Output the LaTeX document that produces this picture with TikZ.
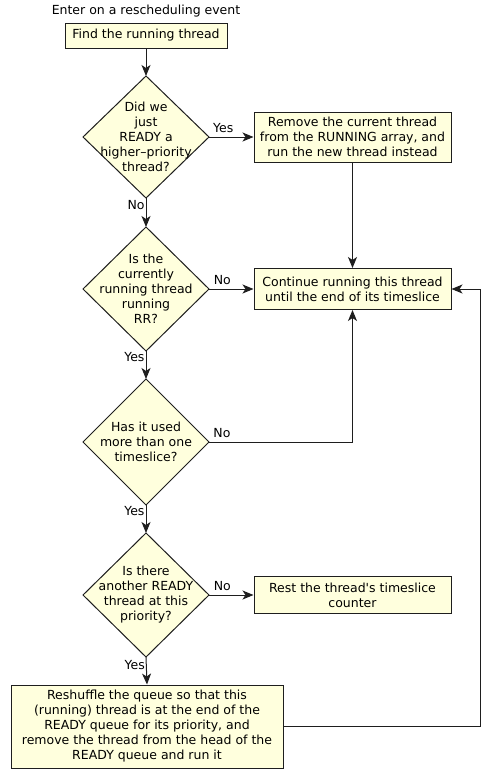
\documentclass[tikz,border=0pt]{standalone}
\usepackage{fontspec}
\setmainfont{DejaVu Sans}[Ligatures=TeXOff]
\usetikzlibrary{shapes.geometric,arrows.meta}
\definecolor{boxfill}{RGB}{255,255,221}
\definecolor{linec}{RGB}{30,30,30}
\tikzset{
  every node/.style={font=\fontsize{12.5}{15}\selectfont},
  procbox/.style={draw=linec, fill=boxfill, line width=1pt, align=center, inner sep=0pt},
  decision/.style={draw=linec, fill=boxfill, line width=1pt, diamond, inner sep=0pt, outer sep=0pt},
  dtext/.style={align=center, inner sep=0pt},
  flow/.style={draw=linec, line width=1pt, -{Stealth[length=11pt,width=9pt,inset=3pt]}},
  lbl/.style={inner sep=1pt}
}
\begin{document}
\begin{tikzpicture}[x=1pt,y=-1pt]
\useasboundingbox (0,0) rectangle (493,777);
\node[inner sep=0pt] (title) at (146,11) {Enter on a rescheduling event};
\node[procbox, minimum width=162pt, minimum height=25pt] (b1) at (146,35.5) {Find the running thread};
\node[decision, minimum width=126pt, minimum height=122pt,
  label={[dtext]center:Did we\\just\\READY a\\higher–priority\\thread?}] (d1) at (146,137) {};
\node[procbox, minimum width=197pt, minimum height=50pt] (b2) at (352.5,137)
  {Remove the current thread\\from the RUNNING array, and\\run the new thread instead};
\node[decision, minimum width=126pt, minimum height=124pt,
  label={[dtext]center:Is the\\currently\\running thread\\running\\RR?}] (d2) at (146,289) {};
\node[procbox, minimum width=197pt, minimum height=41pt] (b3) at (352.5,289)
  {Continue running this thread\\until the end of its timeslice};
\node[decision, minimum width=126pt, minimum height=126pt,
  label={[dtext]center:Has it used\\more than one\\timeslice?}] (d3) at (146,442) {};
\node[decision, minimum width=126pt, minimum height=124pt,
  label={[dtext]center:Is there\\another READY\\thread at this\\priority?}] (d4) at (146,595) {};
\node[procbox, minimum width=197pt, minimum height=37pt] (b4) at (352.5,595)
  {Rest the thread's timeslice\\counter};
\node[procbox, minimum width=272pt, minimum height=83pt] (b5) at (147,726.5)
  {Reshuffle the queue so that this\\(running) thread is at the end of the\\READY queue for its priority, and\\remove the thread from the head of the\\READY queue and run it};
\coordinate (loop) at (480,726.5);

\draw[flow] (b1) -- (d1);
\draw[flow] (d1.east) -- node[lbl, pos=0.32, above=3pt] {Yes} (b2.west);
\draw[flow] (d1.south) -- node[lbl, pos=0.25, left] {No} (d2.north);
\draw[flow] (b2.south) -- (b3.north);
\draw[flow] (d2.east) -- node[lbl, pos=0.3, above=3pt] {No} (b3.west);
\draw[flow] (d2.south) -- node[lbl, pos=0.22, left] {Yes} (d3.north);
\draw[flow] (d3.east) -| node[lbl, pos=0.045, above=3pt] {No} (b3.south);
\draw[flow] (d3.south) -- node[lbl, pos=0.2, left] {Yes} (d4.north);
\draw[flow] (d4.east) -- node[lbl, pos=0.3, above=3pt] {No} (b4.west);
\draw[flow] (d4.south) -- node[lbl, pos=0.28, left] {Yes} (b5.north);
\draw[flow] (b5.east) -- (loop) |- (b3.east);
\end{tikzpicture}
\end{document}
